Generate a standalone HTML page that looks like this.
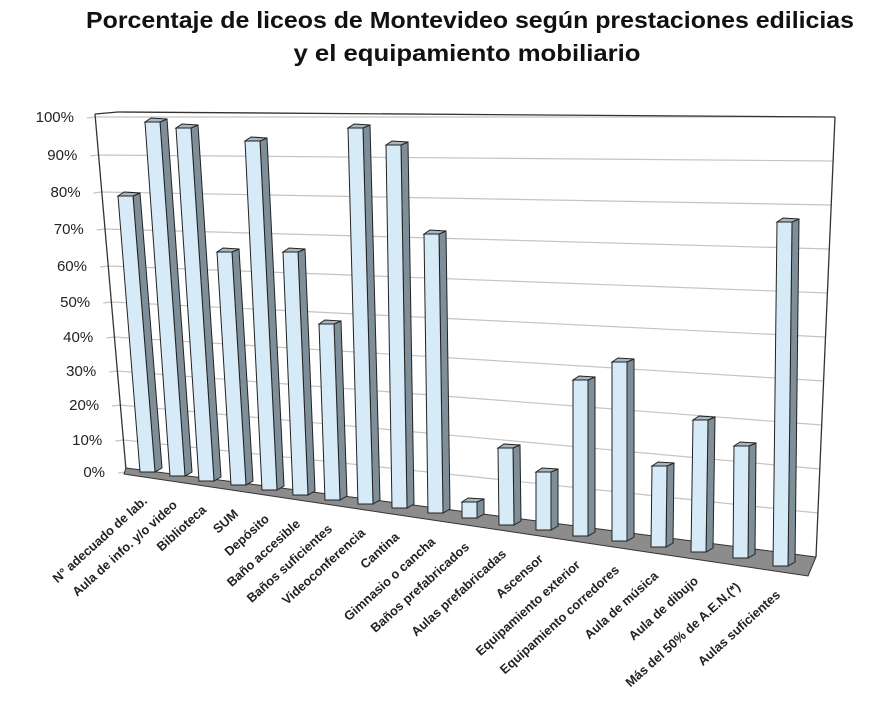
<!DOCTYPE html>
<html><head><meta charset="utf-8"><style>
body{margin:0;background:#fff;}
svg{display:block;font-family:"Liberation Sans",sans-serif;}
</style></head><body>
<svg width="879" height="714" viewBox="0 0 879 714" xmlns="http://www.w3.org/2000/svg">
<rect width="879" height="714" fill="#fff"/>
<text x="470" y="28" text-anchor="middle" font-size="23" font-weight="bold" fill="#111" textLength="768" lengthAdjust="spacingAndGlyphs">Porcentaje de liceos de Montevideo según prestaciones edilicias</text>
<text x="467" y="61" text-anchor="middle" font-size="23" font-weight="bold" fill="#111" textLength="347" lengthAdjust="spacingAndGlyphs">y el equipamiento mobiliario</text>
<g id="grid" stroke="#c4c4c4" stroke-width="1.2" fill="none"></g>
<g id="ticks" font-size="15" fill="#222" text-anchor="end"></g>
<g id="wall" stroke="#333" stroke-width="1.3" fill="none">
<line x1="95" y1="114" x2="126" y2="470"/>
<line x1="95" y1="114" x2="118" y2="112"/>
<line x1="118" y1="112" x2="835" y2="117"/>
<line x1="835" y1="117" x2="816" y2="557"/>
</g>
<polygon points="126,468 816,557 808,576 124,474" fill="#8c8c8c" stroke="#333" stroke-width="1"/>
<g id="bars"></g>
<g id="labels" font-size="12.8" font-weight="bold" fill="#222" text-anchor="end"></g>
</svg>
<script>
var ns="http://www.w3.org/2000/svg";
function el(p,t,a,txt){var e=document.createElementNS(ns,t);for(var k in a)e.setAttribute(k,a[k]);if(txt)e.textContent=txt;document.getElementById(p).appendChild(e);}
var ly=[472,440,405,371,337,302,266,229,192,155,117];
for(var i=0;i<=10;i++){var v=i/10;var lx=126-(126-95)*(1-(ly[i]-117)/355);
var ry=557-v*440, rx=816+19*v;
el("grid","line",{x1:lx,y1:ly[i],x2:rx,y2:ry});
el("grid","line",{x1:lx-8,y1:ly[i]+1,x2:lx,y2:ly[i]});
el("ticks","text",{x:lx-21,y:ly[i]+5},(i*10)+"%");}
var B=[[118,196,140,472],[145,122,170,476],[176,128,199,481],[217,252,231,485],[245,141,262,490],[283,252,293,495],[319,324,325,500],[348,128,358,504],[386,145,392,508],[424,234,428,513],[462,502,462,518],[498,448,499,525],[536,472,536,530],[573,380,573,536],[612,362,612,541],[652,466,651,547],[693,420,691,552],[734,446,733,558],[777,222,773,566]];
var L=["N° adecuado de lab.","Aula de info. y/o video","Biblioteca","SUM","Depósito","Baño accesible","Baños suficientes","Videoconferencia","Cantina","Gimnasio o cancha","Baños prefabricados","Aulas prefabricadas","Ascensor","Equipamiento  exterior","Equipamiento  corredores","Aula de música","Aula de dibujo","Más del 50% de A.E.N.(*)","Aulas suficientes"];
B.forEach(function(b,i){var w=15,s=7,d=4;var xt=b[0],yt=b[1],xb=b[2],yb=b[3];
el("bars","polygon",{points:[xt+w,yt,xt+w+s,yt-d+1,xb+w+s,yb-d,xb+w,yb].join(" "),fill:"#7f8f9a",stroke:"#222","stroke-width":1});
el("bars","polygon",{points:[xt,yt,xt+s-1,yt-d,xt+w+s,yt-d+1,xt+w,yt].join(" "),fill:"#a9b6bf",stroke:"#222","stroke-width":1});
el("bars","polygon",{points:[xt,yt,xt+w,yt,xb+w,yb,xb,yb].join(" "),fill:"#d6eaf8",stroke:"#222","stroke-width":1});
var ax=xb+8,ay=yb+30;
el("labels","text",{x:ax,y:ay,transform:"rotate(-42 "+ax+" "+ay+")"},L[i]);});
</script>
</body></html>
